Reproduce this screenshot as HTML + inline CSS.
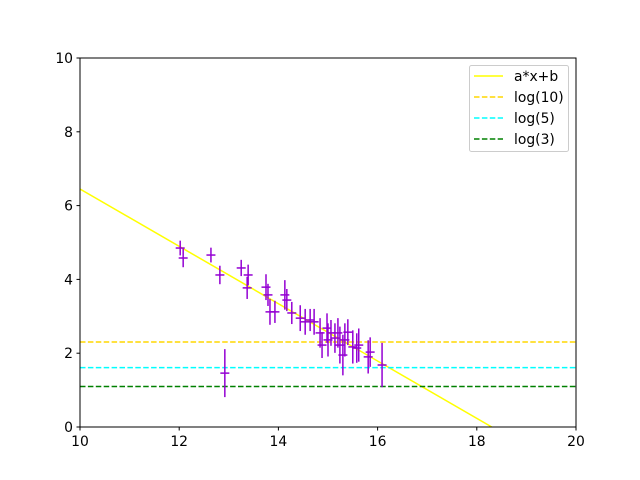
<!DOCTYPE html>
<html><head><meta charset="utf-8"><style>
html,body{margin:0;padding:0;background:#fff;}
svg{display:block;font-family:"DejaVu Sans","Liberation Sans",sans-serif;}
</style></head><body>
<svg id="c" width="640" height="480"></svg>
<script>
const xs=[12.02,12.08,12.64,12.82,13.25,13.39,13.37,12.92,13.75,13.79,13.83,13.93,14.13,14.17,14.27,14.44,14.54,14.64,14.72,14.84,14.88,14.98,15.0,15.06,15.14,15.2,15.24,15.3,15.34,15.4,15.5,15.58,15.62,15.81,15.85,16.09];
const ys=[4.85,4.58,4.66,4.12,4.31,4.12,3.77,1.46,3.79,3.58,3.12,3.12,3.58,3.44,3.09,2.95,2.85,2.9,2.85,2.55,2.22,2.68,2.36,2.55,2.41,2.55,2.22,1.95,2.36,2.57,2.17,2.14,2.22,1.9,2.03,1.68];
const yerr=[0.2,0.25,0.2,0.25,0.22,0.28,0.3,0.65,0.35,0.3,0.35,0.3,0.4,0.3,0.3,0.35,0.35,0.3,0.35,0.4,0.35,0.4,0.45,0.35,0.4,0.4,0.5,0.55,0.45,0.35,0.45,0.4,0.45,0.45,0.4,0.6];
const fitA=-0.777, fitB=14.22;
const hlines=[Math.log(10),Math.log(5),Math.log(3)];
const hcolors=["#ffd700","#00ffff","#008000"];
const hlabels=["log(10)","log(5)","log(3)"];
const xTicks=[10,12,14,16,18,20], yTicks=[0,2,4,6,8,10];
const L=80,R=576,T=58,B=427;
const X=v=>L+(v-10)/10*(R-L), Y=v=>B-(v/10)*(B-T);
const s=document.getElementById('c'), NS="http://www.w3.org/2000/svg";
function el(t,a,p){const e=document.createElementNS(NS,t);for(const k in a)e.setAttribute(k,a[k]);(p||s).appendChild(e);return e;}
const gp=el('g',{'clip-path':'url(#cl)'});
const cp=el('clipPath',{id:'cl'});el('rect',{x:L,y:T,width:R-L,height:B-T},cp);
let fl=el('line',{x1:X(10),y1:Y(fitA*10+fitB),x2:X(20),y2:Y(fitA*20+fitB),stroke:'#ffff00','stroke-width':1.5},gp);

hlines.forEach((v,i)=>{const l=el('line',{x1:L,y1:Y(v),x2:R,y2:Y(v),stroke:hcolors[i],'stroke-width':1.5,'stroke-dasharray':'5.5,2.4'},gp);

});
xs.forEach((x,i)=>{const g=el('g',{stroke:'#9400d3','stroke-width':1.5},gp);


el('line',{x1:X(x),x2:X(x),y1:Y(ys[i]-yerr[i]),y2:Y(ys[i]+yerr[i])},g);
el('line',{x1:X(x)-4.5,x2:X(x)+4.5,y1:Y(ys[i]),y2:Y(ys[i])},g);});
el('rect',{x:L,y:T,width:R-L,height:B-T,fill:'none',stroke:'#000','stroke-width':1});
xTicks.forEach(t=>{el('line',{x1:X(t),x2:X(t),y1:B,y2:B+3.5,stroke:'#000'});
const tx=el('text',{x:X(t),y:B+19,'font-size':13.9,'text-anchor':'middle'});tx.textContent=t;
});
yTicks.forEach(t=>{el('line',{x1:L-3.5,x2:L,y1:Y(t),y2:Y(t),stroke:'#000'});
const tx=el('text',{x:L-7,y:Y(t)+5,'font-size':13.9,'text-anchor':'end'});tx.textContent=t;
});
const lg=el('g',{});
el('rect',{x:469.5,y:65.5,width:99,height:86,rx:2,fill:'#fff',stroke:'#ccc'},lg);
const names=["a*x+b"].concat(hlabels), cols=["#ffff00"].concat(hcolors);
names.forEach((n,i)=>{const yy=76+i*21;
el('line',{x1:474,x2:503,y1:yy,y2:yy,stroke:cols[i],'stroke-width':1.5,'stroke-dasharray':i?'5.5,2.4':''},lg);
const t=el('text',{x:514,y:yy+5,'font-size':13.9},lg);t.textContent=n;
});
</script>
</body></html>
